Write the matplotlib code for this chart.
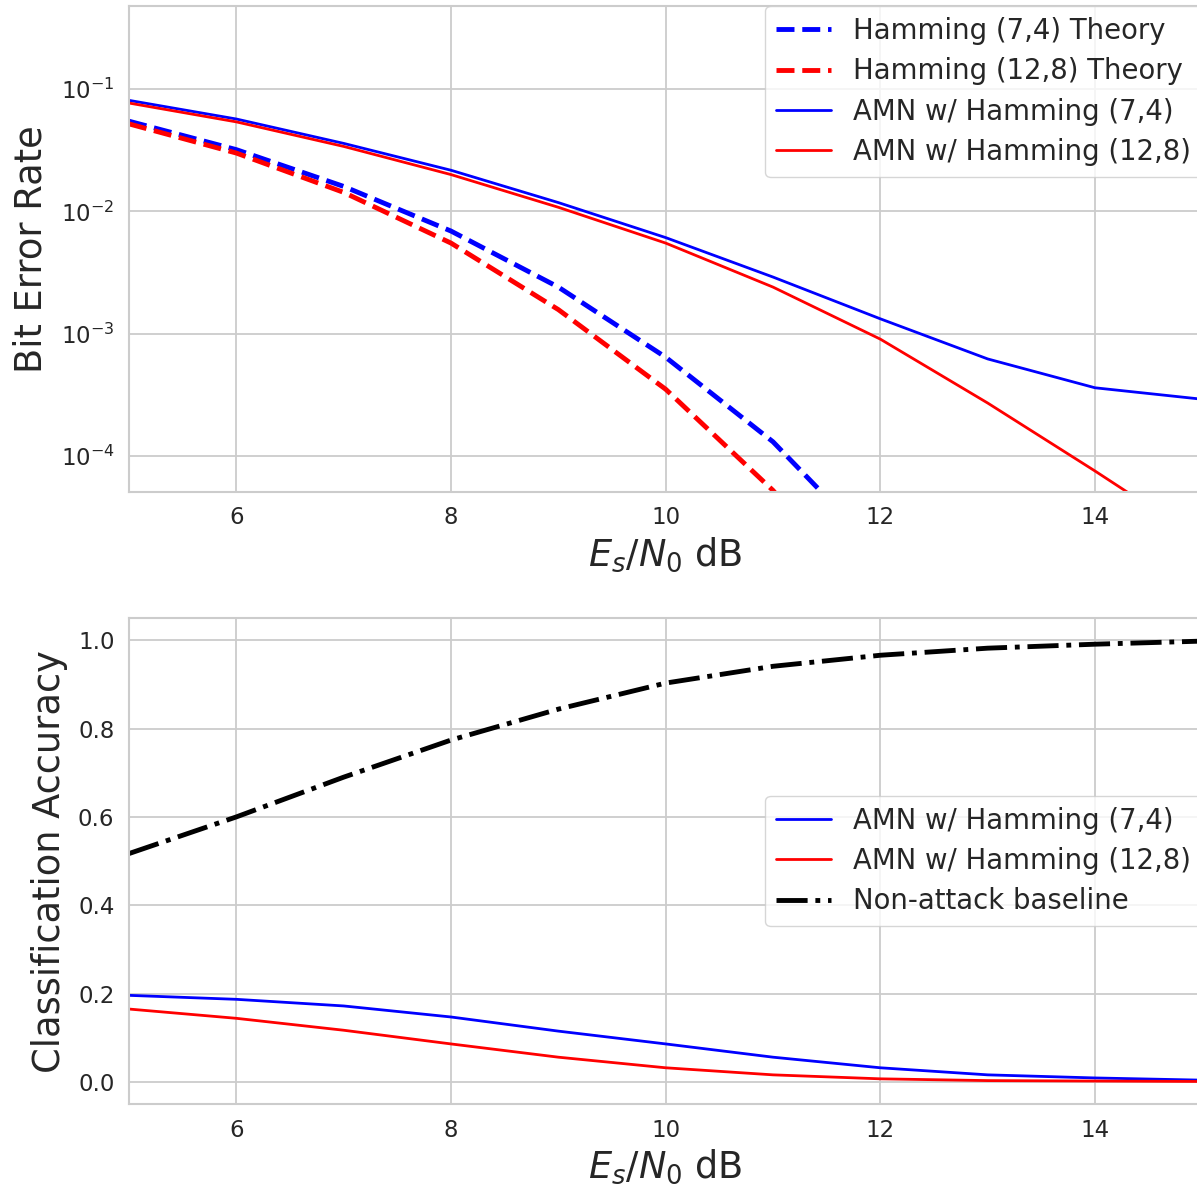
import matplotlib
matplotlib.use("Agg")
import matplotlib.pyplot as plt

# SNR sweep (Es/N0 in dB)
snr_db = [5, 6, 7, 8, 9, 10, 11, 12, 13, 14, 15]

# bit error rates
ber_h74_theory = [0.0547, 0.032, 0.016, 0.0069, 0.0024, 6.4e-4, 1.3e-4, 1.6e-5, 1.3e-6, 7e-8, 2.5e-9]
ber_h128_theory = [0.052, 0.030, 0.0143, 0.0055, 0.00157, 3.5e-4, 5.2e-5, 5e-6, 3e-7, 1e-8, 2e-10]
ber_amn_h74 = [0.081, 0.057, 0.036, 0.0217, 0.0118, 0.0061, 0.0029, 0.00132, 6.2e-4, 3.6e-4, 2.9e-4]
ber_amn_h128 = [0.077, 0.054, 0.034, 0.020, 0.0108, 0.0055, 0.0024, 9e-4, 2.7e-4, 7.5e-5, 2e-5]

# classifier accuracy
acc_amn_h74 = [0.196, 0.187, 0.172, 0.147, 0.115, 0.086, 0.056, 0.032, 0.016, 0.009, 0.004]
acc_amn_h128 = [0.165, 0.144, 0.117, 0.086, 0.056, 0.032, 0.016, 0.007, 0.003, 0.002, 0.001]
acc_baseline = [0.517, 0.600, 0.690, 0.774, 0.844, 0.903, 0.941, 0.966, 0.982, 0.991, 0.998]

plt.style.use("seaborn-v0_8-whitegrid")
plt.rcParams.update({
    "font.family": "DejaVu Sans",
    "mathtext.fontset": "dejavusans",
    "text.color": "0.15",
    "axes.labelcolor": "0.15",
    "xtick.color": "0.15",
    "ytick.color": "0.15",
    "xtick.labelsize": 16.5,
    "ytick.labelsize": 16.5,
    "xtick.major.pad": 10.5,
    "ytick.major.pad": 10.5,
    "axes.labelsize": 26.5,
    "legend.fontsize": 19.8,
    "axes.edgecolor": "0.8",
    "axes.linewidth": 1.5,
    "grid.linewidth": 1.3,
})

fig, (ax1, ax2) = plt.subplots(2, 1, figsize=(11.97, 11.88), dpi=100)
fig.subplots_adjust(left=0.1078, right=1.0045, top=0.995, bottom=0.0707, hspace=0.26)

ax1.semilogy(snr_db, ber_h74_theory, "b--", lw=3.5, label="Hamming (7,4) Theory")
ax1.semilogy(snr_db, ber_h128_theory, "r--", lw=3.5, label="Hamming (12,8) Theory")
ax1.semilogy(snr_db, ber_amn_h74, "b-", lw=2, label="AMN w/ Hamming (7,4)")
ax1.semilogy(snr_db, ber_amn_h128, "r-", lw=2, label="AMN w/ Hamming (12,8)")
ax1.set_xlim(5, 15)
ax1.set_ylim(5.07e-5, 0.48)
ax1.minorticks_off()
ax1.set_xlabel("$E_s/N_0$ dB")
ax1.set_ylabel("Bit Error Rate", labelpad=8)
ax1.legend(loc="upper right", bbox_to_anchor=(1.0, 1.0), borderaxespad=0.0,
           frameon=True, labelspacing=0.45)

ax2.plot(snr_db, acc_amn_h74, "b-", lw=2, label="AMN w/ Hamming (7,4)")
ax2.plot(snr_db, acc_amn_h128, "r-", lw=2, label="AMN w/ Hamming (12,8)")
ax2.plot(snr_db, acc_baseline, "k-.", lw=3.5, label="Non-attack baseline")
ax2.set_xlim(5, 15)
ax2.set_ylim(-0.05, 1.05)
ax2.set_xlabel("$E_s/N_0$ dB")
ax2.set_ylabel("Classification Accuracy", labelpad=7)
ax2.legend(loc="center right", bbox_to_anchor=(1.0, 0.5), borderaxespad=0.0,
           frameon=True, labelspacing=0.45)

for ax in (ax1, ax2):
    ax.set_xticks([6, 8, 10, 12, 14])

plt.savefig("out.png", dpi=100)
